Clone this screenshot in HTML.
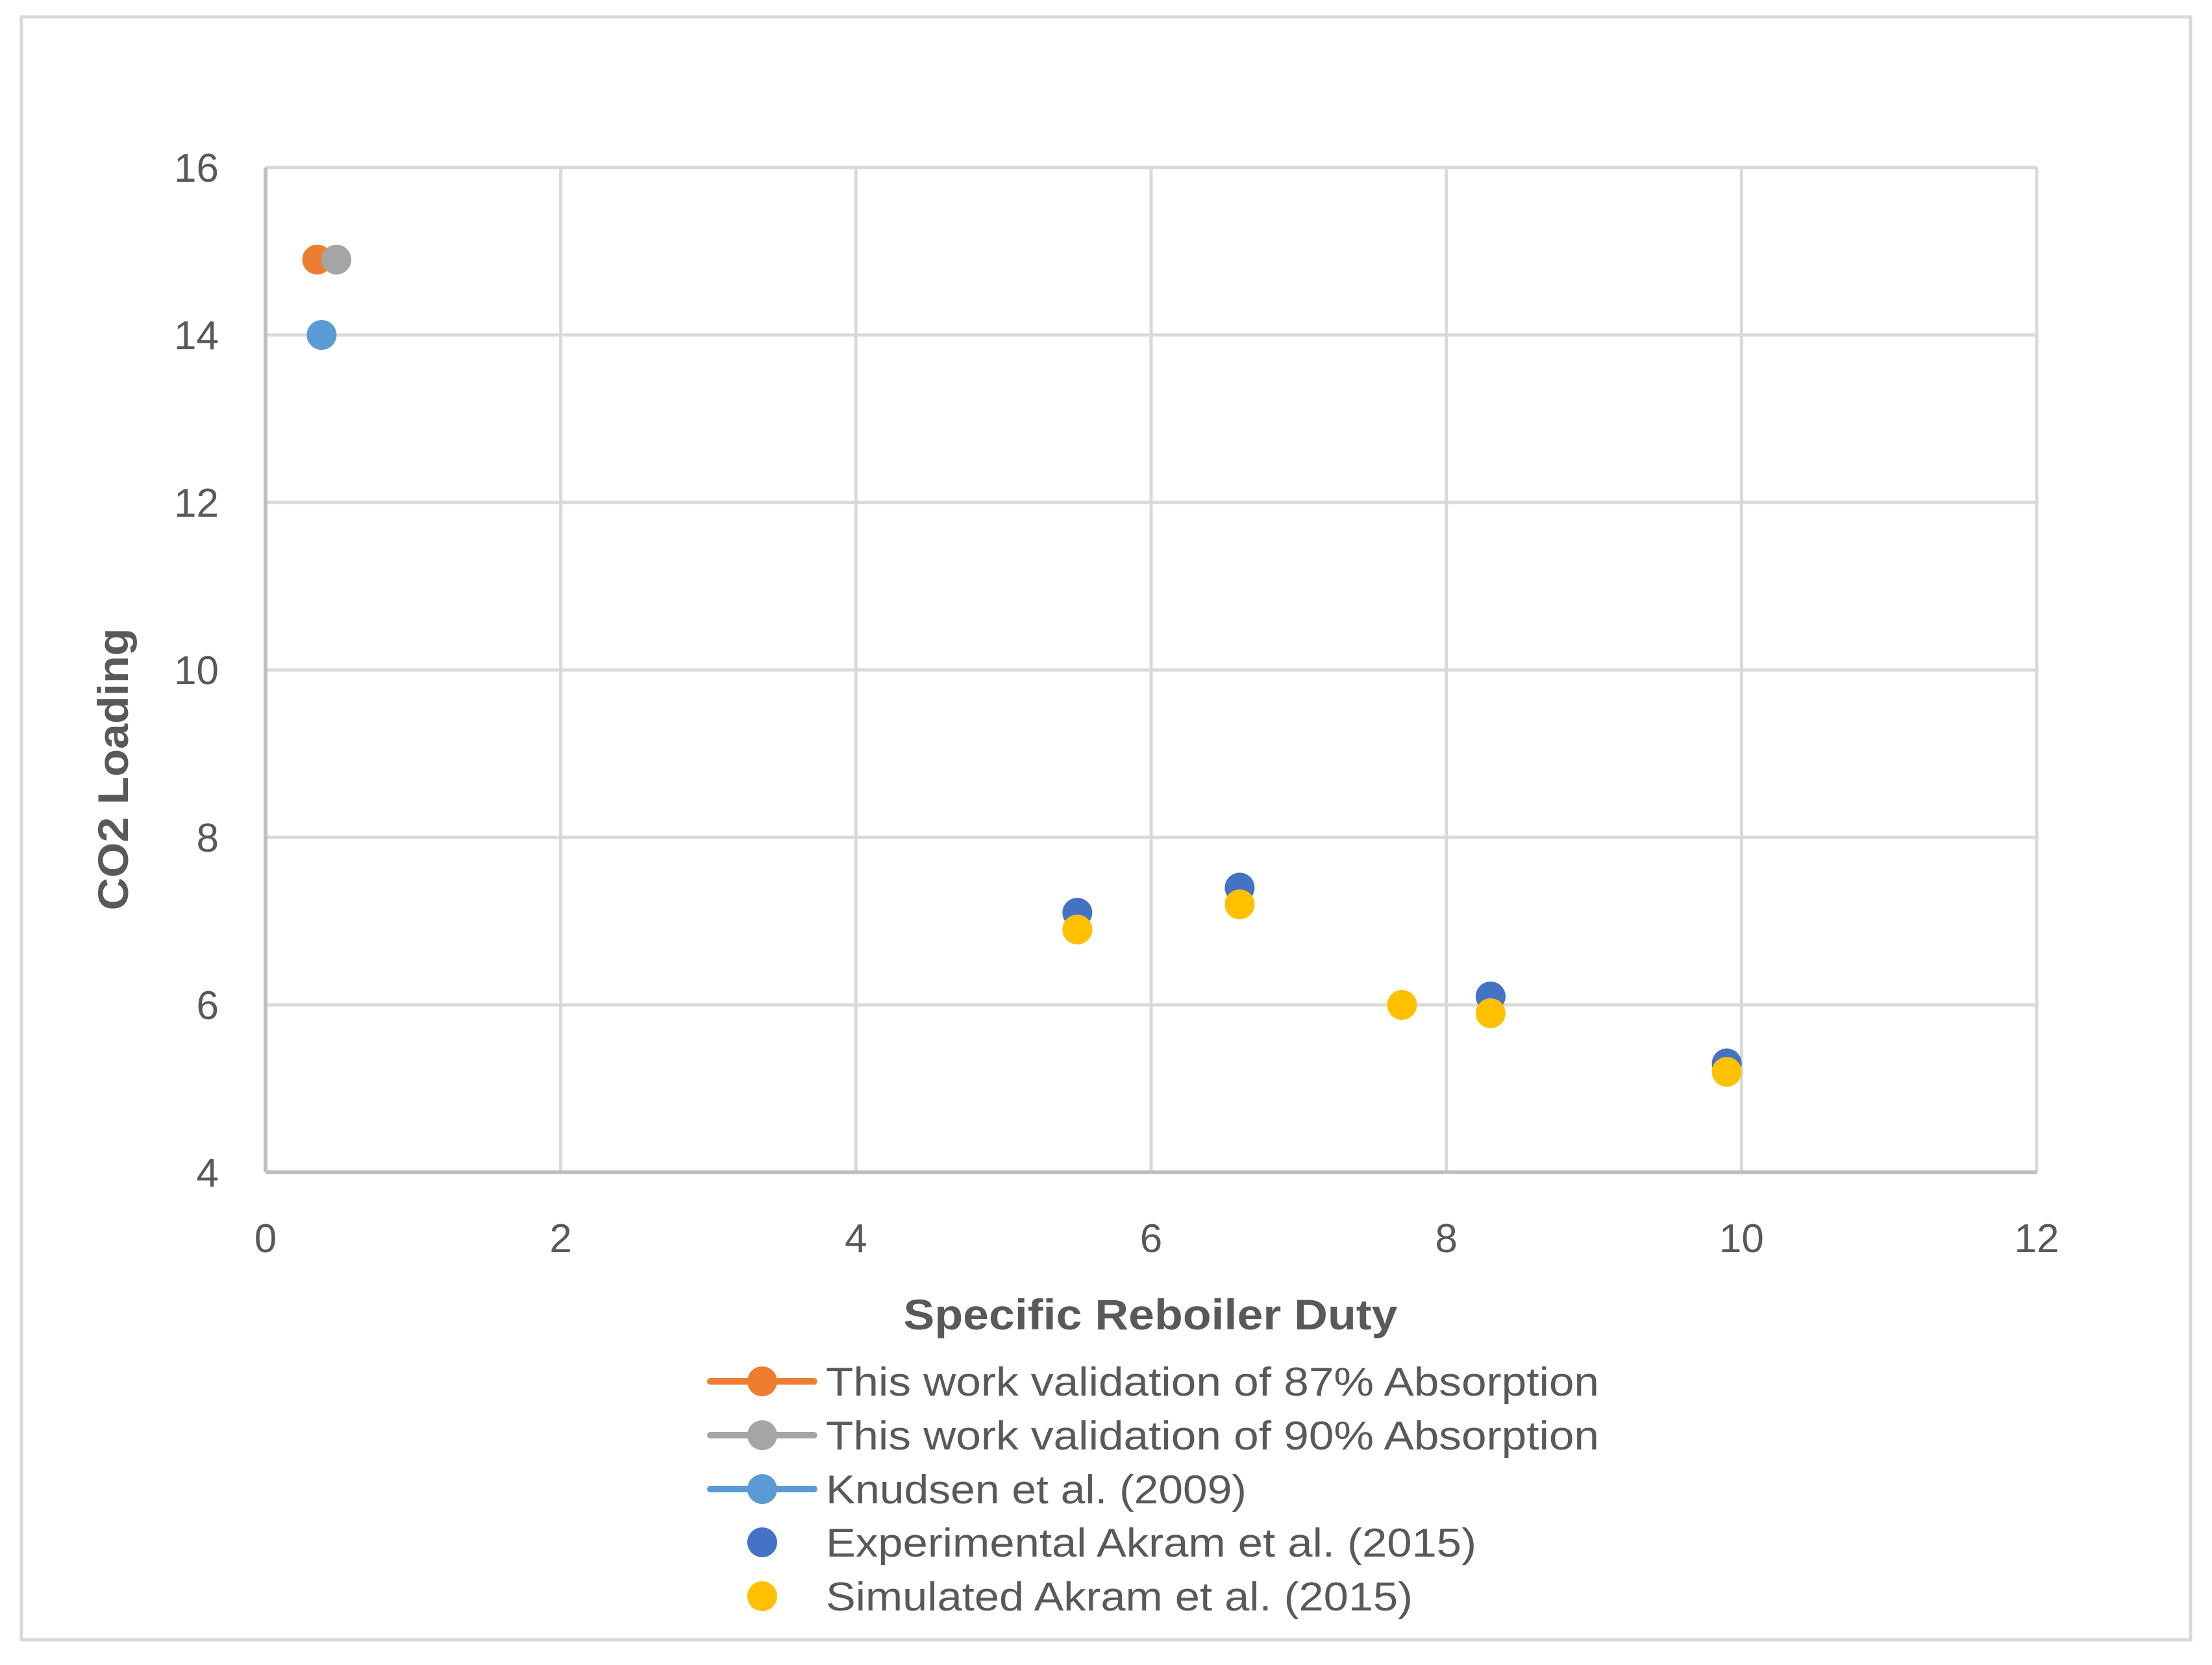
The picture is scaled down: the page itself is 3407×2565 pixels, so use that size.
<!DOCTYPE html>
<html><head><meta charset="utf-8"><style>html,body{margin:0;padding:0;background:#fff}svg{display:block}</style></head>
<body>
<svg id="chart" width="3407" height="2565" xmlns="http://www.w3.org/2000/svg" font-family="'Liberation Sans', sans-serif">
<rect x="33" y="26" width="3341" height="2500" fill="#fff" stroke="#d9d9d9" stroke-width="5"/>
<g id="grid"></g><g id="axes"></g><g id="marks"></g>
<text x="1772" y="2048" text-anchor="middle" font-size="66" font-weight="bold" fill="#595959" textLength="761" lengthAdjust="spacingAndGlyphs">Specific Reboiler Duty</text>
<text transform="translate(197,1185) rotate(-90)" text-anchor="middle" font-size="66" font-weight="bold" fill="#595959" textLength="435" lengthAdjust="spacingAndGlyphs">CO2 Loading</text>
<g id="legend"></g>
</svg>
<script>
const xTicks=[0,2,4,6,8,10,12];
const yTicks=[4,6,8,10,12,14,16];
const s87X=[0.35], s87Y=[14.9];
const s90X=[0.48], s90Y=[14.9];
const knX=[0.38], knY=[14.0];
const expX=[5.5,6.6,8.3,9.9], expY=[7.1,7.4,6.1,5.3];
const simX=[5.5,6.6,7.7,8.3,9.9], simY=[6.9,7.2,6.0,5.9,5.2];
const legendLabels=["This work validation of 87% Absorption","This work validation of 90% Absorption","Knudsen et al. (2009)","Experimental Akram et al. (2015)","Simulated Akram et al. (2015)"];
const legendWidths=[1191,1191,648,1002,904];
const NS="http://www.w3.org/2000/svg";
const L=409,R=3137,T=258,B=1806;
const sx=v=>L+(v-0)/(12-0)*(R-L);
const sy=v=>B-(v-4)/(16-4)*(B-T);
function mk(tag,a,p){const e=document.createElementNS(NS,tag);for(const k in a)e.setAttribute(k,a[k]);p.appendChild(e);return e;}
const grid=document.getElementById('grid'),axes=document.getElementById('axes'),marks=document.getElementById('marks'),leg=document.getElementById('legend');
yTicks.forEach(t=>{
 if(t!==4){const g=mk('line',{x1:L,x2:R,y1:sy(t),y2:sy(t),stroke:'#d9d9d9','stroke-width':5},grid);
 
 }
 const tx=mk('text',{x:337,y:sy(t)+22,'text-anchor':'end','font-size':62,fill:'#595959'},axes);tx.textContent=t;
 
 
});
xTicks.forEach(t=>{
 if(t!==0){const g=mk('line',{x1:sx(t),x2:sx(t),y1:T,y2:B,stroke:'#d9d9d9','stroke-width':5},grid);
 
 }
 const tx=mk('text',{x:sx(t),y:1929,'text-anchor':'middle','font-size':62,fill:'#595959'},axes);tx.textContent=t;
 
 
});
const xa=mk('line',{x1:L,x2:R,y1:B,y2:B,stroke:'#bfbfbf','stroke-width':6},axes);


const ya=mk('line',{x1:L,x2:L,y1:T,y2:B,stroke:'#bfbfbf','stroke-width':6},axes);


const series=[[s87X,s87Y,'#ED7D31','point-87'],[s90X,s90Y,'#A5A5A5','point-90'],[knX,knY,'#5B9BD5','point-knudsen'],[expX,expY,'#4472C4','point-experimental'],[simX,simY,'#FFC000','point-simulated']];
series.forEach(([xs,ys,c,n])=>{xs.forEach((x,i)=>{
 const p=mk('circle',{cx:sx(x),cy:sy(ys[i]),r:23,fill:c},marks);
 
 
});});
const legY=[2128,2211,2294,2376,2459];
legendLabels.forEach((lab,i)=>{
 const c=series[i][2];
 if(i<3){const ln=mk('line',{x1:1094,x2:1254,y1:legY[i],y2:legY[i],stroke:c,'stroke-width':10,'stroke-linecap':'round'},leg);
 
 }
 const m=mk('circle',{cx:1174,cy:legY[i],r:23,fill:c},leg);
 
 
 const t=mk('text',{x:1272,y:legY[i]+22,'font-size':62,fill:'#595959',textLength:legendWidths[i],lengthAdjust:'spacingAndGlyphs'},leg);t.textContent=lab;
 
 
});
</script>
</body></html>
